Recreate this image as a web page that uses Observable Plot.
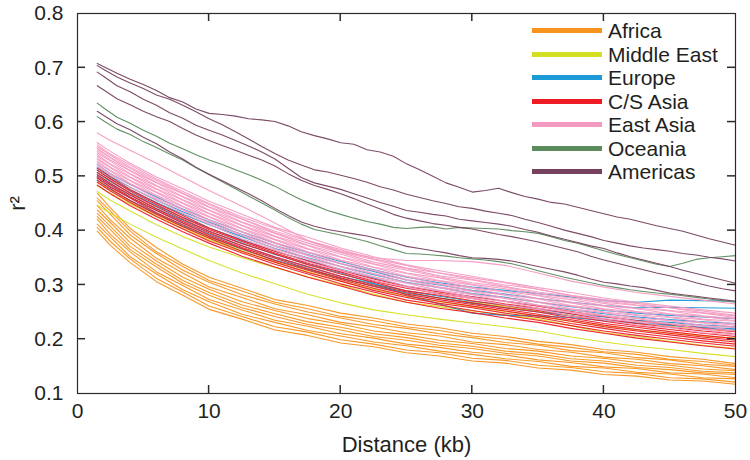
<!DOCTYPE html>
<html>
<head>
<meta charset="utf-8">
<script src="https://cdn.jsdelivr.net/npm/d3@7"></script>
<script src="https://cdn.jsdelivr.net/npm/@observablehq/plot@0.6"></script>
<style>
  html, body { margin: 0; padding: 0; background: #ffffff; }
  body { font-family: "Liberation Sans", Arial, Helvetica, sans-serif; color: #231f20; }
  #wrap { position: relative; width: 750px; height: 460px; }
  #legend { position: absolute; left: 532px; top: 19px; font-size: 21px; }
  #legend .row { height: 23.5px; white-space: nowrap; display: flex; align-items: center; }
  #legend .sw { display: inline-block; width: 70px; height: 5px; margin-right: 6px; }
  #legend .lab { display: inline-block; line-height: 23.5px; }
</style>
</head>
<body>
<div id="wrap">
  <div id="chart"></div>
  <div id="legend"></div>
</div>
<script>
const distances = [1.5, 2.5, 4, 6, 8, 10, 12.5, 15, 17.5, 20, 22.5, 25, 27.5, 30, 32.5, 35, 37.5, 40, 42.5, 45, 47.5, 50];
const distancesFine = [1.5, 2, 3, 4, 5, 6, 7, 8, 9, 10, 11, 12, 13, 14, 15, 16, 17, 18, 19, 20, 21, 22, 23, 24, 25,
  26, 27, 28, 29, 30, 31, 32, 33, 34, 35, 36, 37, 38, 39, 40, 41, 42, 43, 44, 45, 46, 47, 48, 49, 50];

const regions = ["Africa", "Middle East", "Europe", "C/S Asia", "East Asia", "Oceania", "Americas"];
const regionColors = ["#f7941d", "#d4df23", "#1b9ad6", "#ed1c24", "#f49ac1", "#5b8a5c", "#76405f"];

const xTicks = [0, 10, 20, 30, 40, 50];
const yTicks = [0.1, 0.2, 0.3, 0.4, 0.5, 0.6, 0.7, 0.8];

// r^2 values per population (coarse grid)
const africa = [
  [0.469,0.442,0.404,0.369,0.338,0.314,0.294,0.273,0.262,0.248,0.239,0.228,0.221,0.211,0.205,0.196,0.190,0.181,0.176,0.168,0.163,0.155],
  [0.460,0.436,0.399,0.361,0.334,0.308,0.289,0.268,0.256,0.242,0.234,0.223,0.216,0.206,0.200,0.191,0.185,0.177,0.172,0.163,0.159,0.152],
  [0.455,0.430,0.392,0.358,0.327,0.305,0.282,0.265,0.250,0.239,0.227,0.220,0.210,0.203,0.194,0.189,0.179,0.175,0.166,0.162,0.154,0.150],
  [0.446,0.420,0.386,0.349,0.322,0.296,0.277,0.256,0.245,0.231,0.223,0.212,0.206,0.195,0.190,0.181,0.176,0.167,0.163,0.155,0.151,0.144],
  [0.438,0.415,0.378,0.344,0.314,0.292,0.269,0.253,0.238,0.228,0.215,0.208,0.198,0.192,0.183,0.178,0.169,0.165,0.157,0.152,0.145,0.142],
  [0.432,0.408,0.371,0.338,0.308,0.286,0.263,0.247,0.232,0.222,0.210,0.203,0.193,0.187,0.178,0.173,0.164,0.160,0.152,0.148,0.141,0.138],
  [0.426,0.402,0.365,0.333,0.303,0.281,0.258,0.242,0.227,0.217,0.205,0.198,0.189,0.183,0.174,0.169,0.160,0.156,0.148,0.144,0.138,0.135],
  [0.421,0.393,0.361,0.324,0.299,0.273,0.254,0.235,0.224,0.210,0.202,0.191,0.185,0.176,0.171,0.162,0.157,0.149,0.146,0.138,0.136,0.129],
  [0.412,0.388,0.352,0.320,0.291,0.269,0.246,0.231,0.216,0.206,0.195,0.188,0.178,0.172,0.164,0.159,0.150,0.147,0.139,0.136,0.129,0.127],
  [0.406,0.380,0.348,0.312,0.287,0.261,0.242,0.223,0.213,0.199,0.191,0.180,0.175,0.165,0.161,0.152,0.148,0.140,0.137,0.129,0.127,0.121],
  [0.399,0.373,0.341,0.306,0.281,0.255,0.237,0.217,0.207,0.193,0.186,0.175,0.169,0.160,0.156,0.147,0.143,0.135,0.132,0.125,0.123,0.117]
];

const middleEast = [
  [0.490,0.474,0.453,0.429,0.407,0.387,0.365,0.345,0.328,0.312,0.298,0.285,0.276,0.268,0.260,0.252,0.244,0.236,0.229,0.224,0.219,0.214],
  [0.482,0.468,0.449,0.426,0.404,0.383,0.361,0.342,0.324,0.307,0.292,0.279,0.269,0.260,0.251,0.242,0.233,0.224,0.217,0.211,0.206,0.202],
  [0.472,0.456,0.436,0.411,0.389,0.370,0.350,0.332,0.315,0.300,0.283,0.268,0.260,0.252,0.245,0.237,0.225,0.212,0.205,0.196,0.189,0.183],
  [0.447,0.432,0.412,0.388,0.366,0.345,0.322,0.302,0.283,0.267,0.254,0.245,0.237,0.230,0.223,0.215,0.204,0.195,0.187,0.181,0.174,0.168]
];

const europe = [
  [0.522,0.505,0.485,0.462,0.440,0.420,0.398,0.377,0.360,0.343,0.328,0.314,0.304,0.296,0.290,0.284,0.278,0.271,0.268,0.272,0.271,0.270],
  [0.517,0.500,0.480,0.456,0.435,0.416,0.393,0.372,0.356,0.339,0.325,0.309,0.300,0.290,0.283,0.275,0.268,0.262,0.258,0.259,0.258,0.257],
  [0.512,0.496,0.475,0.452,0.430,0.411,0.389,0.367,0.350,0.334,0.319,0.305,0.295,0.284,0.277,0.268,0.260,0.253,0.248,0.244,0.241,0.238],
  [0.507,0.490,0.470,0.446,0.424,0.405,0.383,0.362,0.345,0.329,0.313,0.298,0.288,0.278,0.270,0.262,0.254,0.247,0.241,0.236,0.232,0.229],
  [0.503,0.486,0.465,0.441,0.419,0.399,0.377,0.356,0.338,0.322,0.303,0.282,0.265,0.248,0.244,0.243,0.240,0.234,0.230,0.226,0.222,0.219],
  [0.498,0.481,0.461,0.437,0.414,0.394,0.372,0.351,0.333,0.316,0.302,0.289,0.279,0.270,0.263,0.255,0.247,0.241,0.235,0.231,0.226,0.223],
  [0.493,0.476,0.456,0.432,0.409,0.389,0.366,0.346,0.329,0.312,0.298,0.285,0.276,0.266,0.258,0.250,0.243,0.236,0.230,0.226,0.221,0.217]
];

const csAsia = [
  [0.515,0.499,0.476,0.451,0.428,0.405,0.382,0.362,0.344,0.327,0.311,0.297,0.287,0.278,0.270,0.261,0.251,0.242,0.234,0.227,0.220,0.214],
  [0.511,0.495,0.473,0.448,0.424,0.402,0.380,0.359,0.340,0.324,0.307,0.294,0.284,0.275,0.265,0.257,0.247,0.237,0.229,0.222,0.215,0.210],
  [0.507,0.492,0.469,0.444,0.421,0.399,0.376,0.357,0.337,0.320,0.305,0.289,0.281,0.271,0.262,0.253,0.243,0.233,0.225,0.218,0.211,0.205],
  [0.503,0.487,0.466,0.440,0.417,0.396,0.372,0.352,0.334,0.316,0.300,0.287,0.276,0.267,0.258,0.250,0.239,0.229,0.222,0.214,0.207,0.201],
  [0.500,0.484,0.462,0.437,0.414,0.392,0.369,0.349,0.330,0.313,0.297,0.283,0.273,0.264,0.255,0.246,0.236,0.226,0.218,0.211,0.204,0.198],
  [0.497,0.480,0.460,0.433,0.411,0.389,0.367,0.345,0.327,0.310,0.294,0.280,0.270,0.261,0.252,0.243,0.233,0.223,0.215,0.208,0.201,0.195],
  [0.493,0.477,0.455,0.430,0.407,0.386,0.362,0.342,0.323,0.307,0.290,0.277,0.266,0.258,0.248,0.240,0.229,0.220,0.211,0.204,0.197,0.191],
  [0.489,0.473,0.452,0.426,0.403,0.381,0.359,0.338,0.320,0.302,0.287,0.272,0.263,0.253,0.244,0.235,0.225,0.215,0.207,0.200,0.193,0.187],
  [0.484,0.468,0.446,0.421,0.398,0.377,0.353,0.333,0.314,0.298,0.281,0.268,0.257,0.249,0.239,0.231,0.220,0.211,0.202,0.195,0.188,0.182]
];

const eastAsia = [
  [0.580,0.566,0.548,0.524,0.499,0.474,0.445,0.414,0.382,0.362,0.350,0.345,0.345,0.343,0.336,0.322,0.307,0.296,0.286,0.279,0.272,0.265],
  [0.562,0.546,0.524,0.499,0.477,0.454,0.430,0.406,0.388,0.368,0.352,0.337,0.326,0.316,0.305,0.295,0.286,0.276,0.268,0.261,0.254,0.248],
  [0.558,0.541,0.521,0.495,0.472,0.450,0.425,0.404,0.382,0.365,0.348,0.336,0.322,0.313,0.304,0.292,0.281,0.273,0.266,0.258,0.252,0.244],
  [0.555,0.539,0.517,0.493,0.469,0.448,0.422,0.399,0.381,0.361,0.347,0.331,0.322,0.310,0.300,0.292,0.280,0.271,0.263,0.258,0.249,0.243],
  [0.552,0.535,0.515,0.489,0.468,0.444,0.421,0.396,0.377,0.360,0.342,0.330,0.317,0.309,0.297,0.287,0.279,0.268,0.262,0.253,0.248,0.240],
  [0.549,0.534,0.511,0.488,0.463,0.443,0.416,0.395,0.373,0.357,0.339,0.327,0.315,0.304,0.296,0.284,0.276,0.266,0.257,0.252,0.243,0.238],
  [0.546,0.530,0.510,0.483,0.462,0.438,0.415,0.390,0.372,0.352,0.338,0.322,0.313,0.301,0.293,0.281,0.273,0.262,0.256,0.247,0.242,0.234],
  [0.543,0.528,0.505,0.482,0.457,0.437,0.410,0.389,0.367,0.351,0.333,0.321,0.308,0.300,0.288,0.280,0.268,0.261,0.251,0.246,0.237,0.233],
  [0.540,0.523,0.504,0.477,0.456,0.432,0.409,0.384,0.366,0.346,0.332,0.316,0.307,0.295,0.287,0.275,0.267,0.256,0.250,0.241,0.236,0.228],
  [0.537,0.522,0.499,0.476,0.451,0.431,0.404,0.383,0.361,0.345,0.327,0.315,0.302,0.294,0.282,0.274,0.262,0.255,0.245,0.240,0.231,0.226],
  [0.534,0.517,0.498,0.471,0.450,0.426,0.403,0.378,0.360,0.340,0.326,0.310,0.301,0.289,0.281,0.269,0.261,0.250,0.244,0.235,0.230,0.222],
  [0.531,0.516,0.493,0.470,0.445,0.425,0.398,0.377,0.355,0.339,0.321,0.309,0.296,0.288,0.276,0.268,0.256,0.249,0.239,0.234,0.225,0.221],
  [0.528,0.511,0.492,0.465,0.444,0.420,0.397,0.372,0.354,0.334,0.320,0.304,0.295,0.283,0.275,0.263,0.255,0.244,0.238,0.229,0.224,0.216],
  [0.525,0.510,0.487,0.464,0.439,0.419,0.392,0.371,0.349,0.333,0.315,0.303,0.290,0.282,0.270,0.262,0.250,0.243,0.233,0.228,0.219,0.215],
  [0.522,0.505,0.486,0.459,0.438,0.414,0.391,0.366,0.348,0.328,0.314,0.298,0.289,0.277,0.269,0.257,0.249,0.238,0.232,0.223,0.218,0.210],
  [0.518,0.503,0.480,0.457,0.432,0.412,0.385,0.364,0.342,0.326,0.308,0.296,0.283,0.275,0.263,0.255,0.243,0.236,0.226,0.221,0.212,0.208]
];

// r^2 values per population (fine grid, the separated upper curves)
const oceania = [
  [0.635,0.626,0.609,0.598,0.585,0.574,0.561,0.551,0.540,0.530,0.522,0.512,0.503,0.493,0.482,0.469,0.457,0.447,0.437,0.430,0.423,0.417,0.412,0.406,0.404,
   0.406,0.407,0.403,0.406,0.405,0.404,0.403,0.400,0.398,0.395,0.389,0.382,0.377,0.370,0.363,0.356,0.350,0.344,0.338,0.334,0.340,0.347,0.350,0.352,0.354],
  [0.610,0.602,0.587,0.577,0.564,0.553,0.541,0.530,0.516,0.503,0.490,0.477,0.464,0.451,0.438,0.424,0.412,0.402,0.397,0.392,0.386,0.380,0.372,0.365,0.358,
   0.357,0.355,0.353,0.350,0.348,0.346,0.343,0.339,0.333,0.326,0.320,0.314,0.309,0.304,0.299,0.295,0.291,0.288,0.285,0.283,0.280,0.277,0.274,0.271,0.268]
];

const americas = [
  [0.708,0.702,0.690,0.679,0.669,0.658,0.645,0.637,0.624,0.616,0.614,0.611,0.606,0.604,0.601,0.593,0.582,0.575,0.569,0.562,0.559,0.549,0.545,0.537,0.523,
   0.512,0.500,0.488,0.480,0.471,0.474,0.478,0.470,0.463,0.458,0.452,0.449,0.443,0.437,0.431,0.425,0.421,0.415,0.409,0.404,0.399,0.392,0.385,0.379,0.373],
  [0.704,0.697,0.683,0.672,0.662,0.650,0.642,0.631,0.619,0.606,0.595,0.582,0.569,0.555,0.542,0.530,0.521,0.512,0.508,0.502,0.496,0.489,0.481,0.475,0.467,
   0.461,0.455,0.450,0.444,0.441,0.436,0.432,0.428,0.421,0.415,0.408,0.401,0.395,0.389,0.382,0.377,0.372,0.368,0.365,0.362,0.358,0.355,0.351,0.348,0.344],
  [0.692,0.684,0.667,0.656,0.642,0.631,0.617,0.607,0.594,0.585,0.576,0.566,0.556,0.545,0.532,0.515,0.498,0.488,0.482,0.476,0.468,0.460,0.452,0.445,0.437,
   0.434,0.430,0.427,0.421,0.418,0.415,0.412,0.408,0.402,0.397,0.390,0.384,0.378,0.372,0.367,0.359,0.352,0.346,0.340,0.334,0.327,0.321,0.315,0.309,0.303],
  [0.667,0.659,0.643,0.632,0.620,0.610,0.601,0.588,0.576,0.566,0.557,0.548,0.539,0.530,0.519,0.505,0.493,0.483,0.476,0.468,0.459,0.449,0.440,0.430,0.423,
   0.418,0.413,0.410,0.406,0.403,0.398,0.393,0.389,0.384,0.379,0.373,0.367,0.361,0.353,0.346,0.340,0.334,0.328,0.322,0.317,0.311,0.304,0.298,0.293,0.289],
  [0.620,0.612,0.597,0.586,0.572,0.560,0.545,0.532,0.517,0.504,0.492,0.480,0.468,0.455,0.441,0.428,0.416,0.408,0.402,0.398,0.394,0.390,0.384,0.378,0.371,
   0.367,0.363,0.359,0.354,0.350,0.349,0.347,0.344,0.339,0.334,0.329,0.324,0.318,0.311,0.305,0.302,0.298,0.295,0.290,0.285,0.282,0.279,0.276,0.273,0.270]
];

const groups = [
  {lines: africa, grid: distances},
  {lines: middleEast, grid: distances},
  {lines: europe, grid: distances},
  {lines: csAsia, grid: distances},
  {lines: eastAsia, grid: distances},
  {lines: oceania, grid: distancesFine},
  {lines: americas, grid: distancesFine}
];

// Long-format table for Plot
const rows = [];
groups.forEach((grp, g) => {
  grp.lines.forEach((vals, i) => {
    vals.forEach((v, j) => {
      rows.push({region: regions[g], id: regions[g] + "-" + i, kb: grp.grid[j], r2: v});
    });
  });
});

const font = "'Liberation Sans', Arial, Helvetica, sans-serif";
const W = 750, H = 460, mL = 77, mR = 15, mT = 13, mB = 67;
const tickLen = 8;
const xInner = xTicks.slice(1, -1);
const yInner = yTicks.slice(1, -1);
const axisColor = "#2b2b2b";

const chart = Plot.plot({
  width: W,
  height: H,
  marginLeft: mL,
  marginRight: mR,
  marginTop: mT,
  marginBottom: mB,
  style: {fontFamily: font, fontSize: "21px", color: "#231f20", background: "#ffffff"},
  x: {domain: [xTicks[0], xTicks[xTicks.length - 1]]},
  y: {domain: [yTicks[0], yTicks[yTicks.length - 1]]},
  color: {domain: regions, range: regionColors},
  marks: [
    Plot.lineY(rows, {x: "kb", y: "r2", z: "id", stroke: "region", strokeWidth: 1.1, strokeOpacity: 0.95}),
    Plot.frame({stroke: axisColor, strokeWidth: 1.2}),
    // tick labels
    Plot.axisX({ticks: xTicks, tickSize: 0, tickPadding: 10, label: null, fontSize: 21, tickFormat: d => String(d)}),
    Plot.axisY({ticks: yTicks, tickSize: 0, tickPadding: 14, label: null, fontSize: 21, tickFormat: d => d.toFixed(1)}),
    // axis titles
    Plot.text(["Distance (kb)"], {frameAnchor: "bottom", dy: 51, lineAnchor: "middle", fontSize: 22, fill: "#231f20"}),
    Plot.text(["r²"], {frameAnchor: "left", dx: -60, rotate: -90, lineAnchor: "middle", textAnchor: "middle", fontSize: 22, fill: "#231f20"})
  ]
});
document.getElementById("chart").appendChild(chart);

// Inward tick marks on all four sides, positioned with the plot's own scales
const svgEl = chart.tagName.toLowerCase() === "svg" ? chart : chart.querySelector("svg");
const sx = chart.scale("x"), sy = chart.scale("y");
const tg = d3.select(svgEl).append("g")
  .attr("stroke", axisColor).attr("stroke-width", 1.5).attr("fill", "none");
const yBottom = sy.apply(yTicks[0]), yTop = sy.apply(yTicks[yTicks.length - 1]);
const xLeft = sx.apply(xTicks[0]), xRight = sx.apply(xTicks[xTicks.length - 1]);
xInner.forEach(v => {
  const px = sx.apply(v);
  tg.append("line").attr("x1", px).attr("x2", px).attr("y1", yBottom).attr("y2", yBottom - tickLen);
  tg.append("line").attr("x1", px).attr("x2", px).attr("y1", yTop).attr("y2", yTop + tickLen);
});
yInner.forEach(v => {
  const py = sy.apply(v);
  tg.append("line").attr("y1", py).attr("y2", py).attr("x1", xLeft).attr("x2", xLeft + tickLen);
  tg.append("line").attr("y1", py).attr("y2", py).attr("x1", xRight).attr("x2", xRight - tickLen);
});

// Legend (inside the plot area, top right)
const legend = document.getElementById("legend");
regions.forEach((r, i) => {
  const row = document.createElement("div");
  row.className = "row";
  const sw = document.createElement("span");
  sw.className = "sw";
  sw.style.background = regionColors[i];
  const label = document.createElement("span");
  label.className = "lab";
  label.textContent = r;
  row.appendChild(sw);
  row.appendChild(label);
  legend.appendChild(row);
});
</script>
</body>
</html>
